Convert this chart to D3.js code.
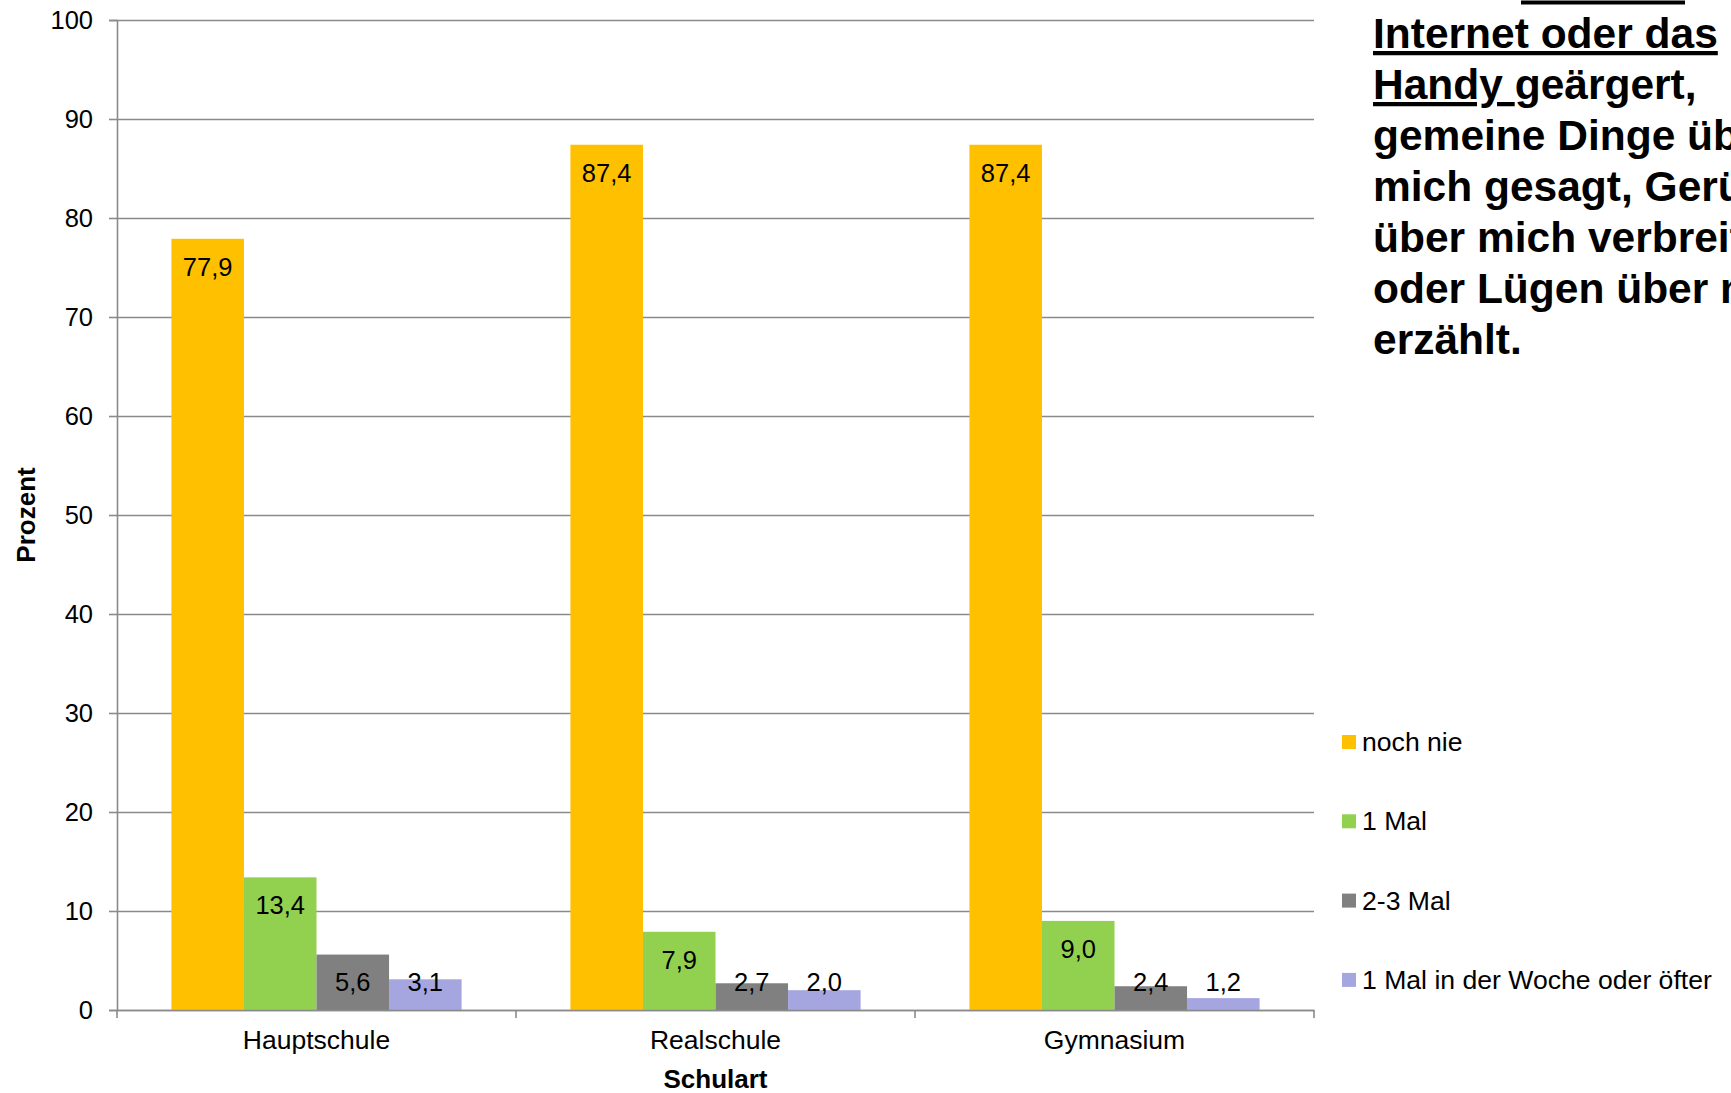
<!DOCTYPE html>
<html>
<head>
<meta charset="utf-8">
<script src="https://cdn.jsdelivr.net/npm/d3@7"></script>
<style>
  html, body { margin: 0; padding: 0; background: #fff; }
  svg { display: block; font-family: "Liberation Sans", Arial, sans-serif; }
</style>
</head>
<body>
<div id="chart"></div>
<script>
// data
const schools = ["Hauptschule", "Realschule", "Gymnasium"];
const series = ["noch nie", "1 Mal", "2-3 Mal", "1 Mal in der Woche oder öfter"];
const nochNie = [77.9, 87.4, 87.4];
const einMal = [13.4, 7.9, 9.0];
const zweiDreiMal = [5.6, 2.7, 2.4];
const woechentlich = [3.1, 2.0, 1.2];
const yTicks = [0, 10, 20, 30, 40, 50, 60, 70, 80, 90, 100];
const colors = ["#FFC000", "#92D050", "#808080", "#A5A5E0"];

const values = [nochNie, einMal, zweiDreiMal, woechentlich];
const rows = schools.map((s, i) => ({
    school: s,
    bars: series.map((name, j) => ({ name, value: values[j][i], color: colors[j] }))
}));

const width = 1731, height = 1093;
const margin = { top: 20, right: 417, bottom: 83, left: 117 };
const fmt = v => d3.format(".1f")(v).replace(".", ",");

const svg = d3.select("#chart").append("svg")
    .attr("width", width)
    .attr("height", height)
    .attr("viewBox", [0, 0, width, height]);

const x0 = d3.scaleBand()
    .domain(schools)
    .range([margin.left, width - margin.right]);

const x1 = d3.scaleBand()
    .domain(series)
    .range([0, x0.bandwidth()])
    .paddingOuter(0.75); // excel gap width 150%

const y = d3.scaleLinear()
    .domain([0, 100])
    .range([height - margin.bottom, margin.top]);

// gridlines + y axis
svg.append("g")
    .attr("transform", `translate(${margin.left},0)`)
    .call(d3.axisLeft(y).tickValues(yTicks).tickSize(8).tickPadding(16))
    .call(g => g.selectAll(".tick line").clone()
        .attr("x2", width - margin.right - margin.left))
    .call(g => g.selectAll("line, .domain").attr("stroke", "#8a8a8a").attr("stroke-width", 1.6))
    .call(g => g.selectAll("text").attr("font-size", 25.5).attr("fill", "#000")
        .attr("font-family", "Liberation Sans, Arial, sans-serif"));

// bars
const groups = svg.append("g")
    .selectAll("g")
    .data(rows)
    .join("g")
    .attr("transform", d => `translate(${x0(d.school)},0)`);

groups.selectAll("rect")
    .data(d => d.bars)
    .join("rect")
    .attr("x", d => x1(d.name))
    .attr("y", d => y(d.value))
    .attr("width", x1.bandwidth())
    .attr("height", d => y(0) - y(d.value))
    .attr("fill", d => d.color);

// value labels, inside end (clamped for short bars)
groups.selectAll("text")
    .data(d => d.bars)
    .join("text")
    .attr("x", d => x1(d.name) + x1.bandwidth() / 2)
    .attr("y", d => Math.min(y(d.value) + 37, y(0) - 19))
    .attr("text-anchor", "middle")
    .attr("font-size", 25.5)
    .text(d => fmt(d.value));

// x axis with ticks between categories
const xAxisY = y(0);
svg.append("g")
    .attr("transform", `translate(0,${xAxisY})`)
    .call(d3.axisBottom(x0).tickSize(0).tickPadding(20))
    .call(g => g.select(".domain").attr("stroke", "#8a8a8a").attr("stroke-width", 1.6))
    .call(g => g.selectAll("text").attr("font-size", 26.5).attr("fill", "#000")
        .attr("font-family", "Liberation Sans, Arial, sans-serif"));

svg.append("g")
    .selectAll("line")
    .data(schools.map(s => x0(s)).concat([width - margin.right]))
    .join("line")
    .attr("x1", d => d).attr("x2", d => d)
    .attr("y1", xAxisY).attr("y2", xAxisY + 8)
    .attr("stroke", "#8a8a8a")
    .attr("stroke-width", 1.6);

// axis titles
svg.append("text")
    .attr("x", (margin.left + width - margin.right) / 2)
    .attr("y", 1088)
    .attr("text-anchor", "middle")
    .attr("font-size", 26)
    .attr("font-weight", "bold")
    .text("Schulart");

svg.append("text")
    .attr("transform", `translate(35,${(y(0) + y(100)) / 2}) rotate(-90)`)
    .attr("text-anchor", "middle")
    .attr("font-size", 26)
    .attr("font-weight", "bold")
    .text("Prozent");

// legend
const legend = svg.append("g")
    .selectAll("g")
    .data(series)
    .join("g")
    .attr("transform", (d, i) => `translate(1342,${742 + i * 79.3})`);

legend.append("rect")
    .attr("y", -7)
    .attr("width", 14)
    .attr("height", 14)
    .attr("fill", (d, i) => colors[i]);

legend.append("text")
    .attr("x", 20)
    .attr("y", 9)
    .attr("font-size", 26.6)
    .text(d => d);

// question text at the right (cut off at the edge like the source)
const title = svg.append("text")
    .attr("font-size", 42.5)
    .attr("font-weight", "bold")
    .attr("style", "white-space: pre");

const titleLines = [
    [["Internet oder das", true]],
    [["Handy ", true], ["geärgert", false], [",", true]],
    [["gemeine Dinge über", false]],
    [["mich gesagt, Gerüchte", false]],
    [["über mich verbreitet", false]],
    [["oder Lügen über mich", false]],
    [["erzählt.", false]]
];

titleLines.forEach((parts, i) => {
    parts.forEach((p, k) => {
        const t = title.append("tspan")
            .attr("y", 48 + i * 51)
            .attr("text-decoration", p[1] ? "underline" : null)
            .text(p[0]);
        if (k === 0) t.attr("x", 1373);
    });
});

// underline of the line above, which sits outside the picture
svg.append("line")
    .attr("x1", 1521).attr("x2", 1685)
    .attr("y1", 2.5).attr("y2", 2.5)
    .attr("stroke", "#000")
    .attr("stroke-width", 4);
</script>
</body>
</html>
